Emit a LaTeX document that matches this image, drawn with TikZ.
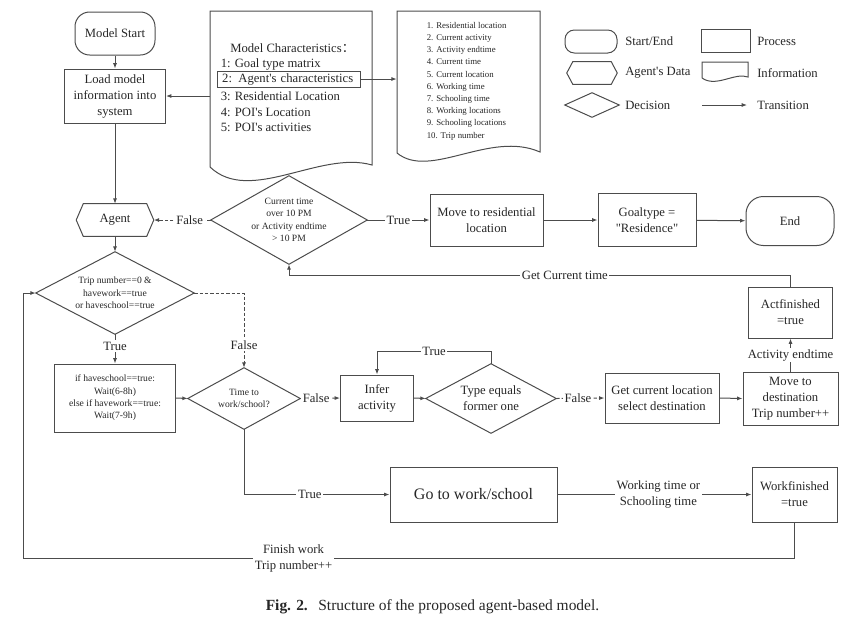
\documentclass[tikz,border=0pt]{standalone}
\usepackage{fontspec}
\setmainfont{Liberation Serif}
\newfontfamily\cjkfont{Noto Sans CJK SC}
\usetikzlibrary{arrows.meta}
\newcommand\mainf{\fontsize{9.5}{12}\selectfont}
\newcommand\smallf{\fontsize{7.2}{9.3}\selectfont}
\newcommand\tinyf{\fontsize{6.6}{9.15}\selectfont}
\newcommand\bigf{\fontsize{12}{14}\selectfont}
\newcommand\capf{\fontsize{11.6}{14}\selectfont}
\newcommand\diam[1]{\draw[line] (#1.north) -- (#1.east) -- (#1.south) -- (#1.west) -- cycle;}
\newcommand\hexa[2]{\draw[line] ([xshift=#2]#1.north west) -- ([xshift=-#2]#1.north east) -- (#1.east) -- ([xshift=-#2]#1.south east) -- ([xshift=#2]#1.south west) -- (#1.west) -- cycle;}
\newcommand\apos{\textquotesingle}
\tikzset{
  line/.style={draw=black!70, line width=0.75pt},
  arr/.style={line, -{Latex[length=4pt,width=3pt]}},
  dsh/.style={dash pattern=on 2.5pt off 1.5pt},
  sz/.style 2 args={minimum width={#1*0.75pt}, minimum height={#2*0.75pt}},
  box/.style={draw=black!70, line width=0.75pt, rectangle, inner sep=0pt, align=center, font=\mainf, text=black!85},
  ghost/.style={inner sep=0pt, align=center, font=\mainf, text=black!85},
  txt/.style={inner sep=0pt, font=\mainf, text=black!85},
  lbl/.style={fill=white, inner sep=1.2pt, font=\mainf, text=black!85, align=center},
}
\begin{document}
\begin{tikzpicture}[x=0.75pt, y=-0.75pt]
\useasboundingbox (0,0) rectangle (848,622);

% ---- top left column
\node[box, rounded corners=11pt, sz={80}{43}] (start) at (115,33.5) {Model Start};
\node[box, sz={101}{54}] (load) at (115,96) {Load model\\information into\\system};

% ---- model characteristics document
\node[ghost, sz={162}{170}] (mc) at (291,96) {};
\draw[line] (210,167) -- (210,11) -- (372,11) -- (372,165) .. controls (320,150) and (250,205) .. (210,167);
\node[txt, anchor=west] (mct) at (230,48) {Model Characteristics{\cjkfont ：}};
\node[txt, anchor=west] (mc1) at (220.5,64) {1: Goal type matrix};
\node[box, anchor=west, minimum height=12pt, inner xsep=3.5pt, text width=100pt, align=left] (mc2) at (217,79) {2: Agent\apos s characteristics};
\node[txt, anchor=west] (mc3) at (220.5,96) {3: Residential Location};
\node[txt, anchor=west] (mc4) at (220.5,112) {4: POI\apos s Location};
\node[txt, anchor=west] (mc5) at (220.5,127.5) {5: POI\apos s activities};

% ---- agent information document
\node[ghost, sz={143}{136}] (info) at (468.5,79) {};
\draw[line] (397,153) -- (397,11) -- (540,11) -- (540,152) .. controls (490,130) and (430,180) .. (397,153);
\node[txt, font=\tinyf, anchor=west, align=left] (infot) at (426.5,81) {1. Residential location\\2. Current activity\\3. Activity endtime\\4. Current time\\5. Current location\\6. Working time\\7. Schooling time\\8. Working locations\\9. Schooling locations\\10. Trip number};

\draw[arr] (mc2.east) -- (info.west);
\draw[arr] (mc.west) -- (load.east);
\draw[arr] (start.south) -- (load.north);

% ---- legend
\node[box, rounded corners=7pt, sz={52}{23}] (lgse) at (591,41.5) {};
\node[txt, anchor=west] (lgset) at (625,41) {Start/End};
\node[box, sz={49}{23}] (lgpr) at (725.5,40.5) {};
\node[txt, anchor=west] (lgprt) at (757,41) {Process};
\node[ghost, sz={50}{22}] (lgad) at (592,73) {};
\hexa{lgad}{4.5pt}
\node[txt, anchor=west] (lgadt) at (625,73) {Agent\apos s Data};
\node[ghost, sz={46}{16}] (lginfo) at (725,70) {};
\draw[line] (702,78) -- (702,62) -- (748,62) -- (748,77) .. controls (735,72) and (716,88) .. (702,78);
\node[txt, anchor=west] (lginfot) at (757,73) {Information};
\node[ghost, sz={54}{24}] (lgdec) at (592,105) {};
\diam{lgdec}
\node[txt, anchor=west] (lgdect) at (625,105) {Decision};
\coordinate (lgta) at (702,105);
\coordinate (lgtb) at (747,105);
\draw[arr] (lgta) -- (lgtb);
\node[txt, anchor=west] (lgtrt) at (757,105) {Transition};

% ---- agent row
\node[ghost, sz={77}{32}] (agent) at (115,220) {Agent};
\hexa{agent}{5.25pt}
\draw[arr] (load.south) -- (agent.north);
\node[ghost, sz={156}{88}, font=\smallf] (ct) at (289,220) {Current time\\over 10 PM\\or Activity endtime\\> 10 PM};
\diam{ct}
\node[box, sz={113}{52}] (mres) at (486.5,220) {Move to residential\\location};
\node[box, sz={98}{53}] (goal) at (647,220) {Goaltype =\\\textquotedbl Residence\textquotedbl};
\node[box, rounded corners=13pt, sz={88}{49}] (end) at (790,221) {End};
\draw[arr, dsh] (ct.west) -- node[lbl, pos=0.37]{False} (agent.east);
\draw[arr] (ct.east) -- node[lbl]{True} (mres.west);
\draw[arr] (mres) -- (goal);
\draw[arr] (goal) -- (end);

% ---- trip decision
\node[ghost, sz={158}{82}, font=\smallf] (trip) at (115,293) {Trip number==0 \&\\havework==true\\or haveschool==true};
\diam{trip}
\draw[arr] (agent.south) -- (trip.north);
\node[box, sz={121}{68}, font=\smallf] (wait) at (115,398) {if haveschool==true:\\Wait(6-8h)\\else if havework==true:\\Wait(7-9h)};
\draw[arr] (trip.south) -- node[lbl, pos=0.4]{True} (wait.north);
\node[ghost, sz={112}{61}, font=\smallf] (tdec) at (244,398.5) {Time to\\work/school?};
\diam{tdec}
\draw[arr, dsh] (trip.east) -| node[lbl, pos=0.85]{False} (tdec.north);
\draw[arr] (wait.east) -- (tdec.west);

% ---- middle row
\node[box, sz={73}{46}] (infer) at (377,398) {Infer\\activity};
\node[ghost, sz={130}{69}] (type) at (491,398.5) {Type equals\\former one};
\diam{type}
\node[box, sz={114}{50}] (gcl) at (662,398) {Get current location\\select destination};
\node[box, sz={95}{53}] (mdst) at (790.5,398.5) {Move to\\destination\\Trip number++};
\node[box, sz={84}{51}] (act) at (790.5,312.5) {Actfinished\\=true};
\draw[arr, dsh] (tdec.east) -- node[lbl, pos=0.4]{False} (infer.west);
\draw[arr] (infer.east) -- (type.west);
\draw[arr] (type.north) -- ++(0,-12) -| node[lbl, pos=0.25]{True} (infer.north);
\draw[arr, dsh] (type.east) -- node[lbl, pos=0.45]{False} (gcl.west);
\draw[arr] (gcl.east) -- (mdst.west);
\draw[arr] (mdst.north) -- node[lbl]{Activity endtime} (act.south);
\draw[arr] (act.north) -- ++(0,-11) -| node[lbl, pos=0.225]{Get Current time} (ct.south);

% ---- bottom row
\node[box, sz={167}{55}, font=\bigf] (gtw) at (473.5,494.5) {Go to work/school};
\node[box, sz={85}{55}] (wf) at (794.5,494.5) {Workfinished\\=true};
\draw[arr] (tdec.south) |- node[lbl, pos=0.726]{True} (gtw.west);
\draw[arr] (gtw.east) -- node[lbl, pos=0.52]{Working time or\\Schooling time} (wf.west);
\draw[arr] (wf.south) -- ++(0,36) -| node[lbl, pos=0.325, inner ysep=0.5pt]{Finish work\\Trip number++} ([xshift=-9pt]trip.west) -- (trip.west);

% ---- caption
\node[txt, font=\capf] (cap) at (432.5,607) {\textbf{Fig. 2.}\hspace{4pt} Structure of the proposed agent-based model.};
\end{tikzpicture}
\end{document}
